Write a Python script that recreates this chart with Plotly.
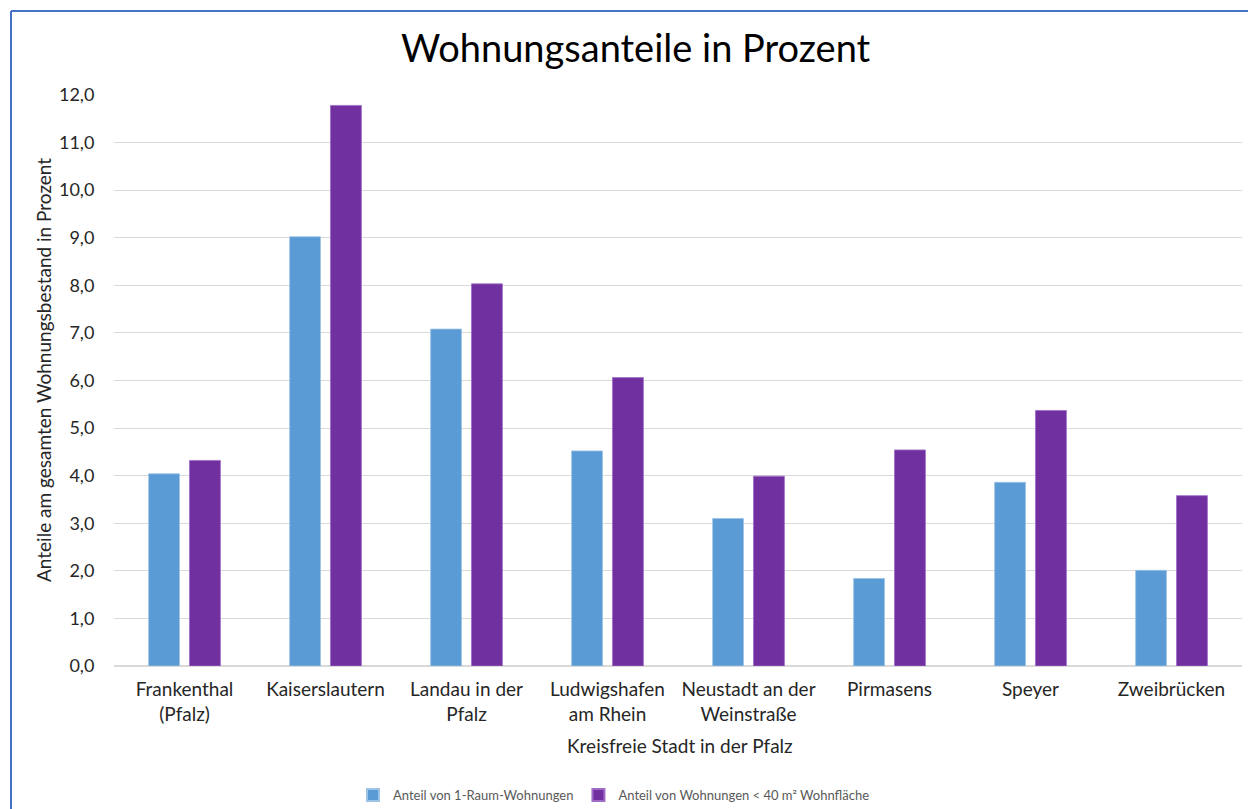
import plotly.graph_objects as go

categories = ["Frankenthal<br>(Pfalz)", "Kaiserslautern", "Landau in der<br>Pfalz",
              "Ludwigshafen<br>am Rhein", "Neustadt an der<br>Weinstraße", "Pirmasens",
              "Speyer", "Zweibrücken"]
anteil_1raum = [4.04, 9.02, 7.08, 4.52, 3.10, 1.84, 3.86, 2.01]
anteil_40qm = [4.32, 11.78, 8.03, 6.06, 3.99, 4.54, 5.37, 3.58]
series_names = ["Anteil von 1-Raum-Wohnungen", "Anteil von Wohnungen < 40 m² Wohnfläche"]
y_ticks = [0, 1, 2, 3, 4, 5, 6, 7, 8, 9, 10, 11, 12]

FONT = "Lato"
W, H = 1248, 809
L, R, T, B = 114, 6, 94, 143
pw, ph = W - L - R, H - T - B

def px_x(p):
    return (p - L) / pw

def px_y(p):
    return (H - B - p) / ph

fig = go.Figure()
fig.add_trace(go.Bar(x=categories, y=anteil_1raum, name=series_names[0],
                     marker=dict(color="#5B9BD5", line=dict(width=0.8, color="#9DC3E6"))))
fig.add_trace(go.Bar(x=categories, y=anteil_40qm, name=series_names[1],
                     marker=dict(color="#7030A0", line=dict(width=0.8, color="#9E6CC6"))))

fig.update_layout(
    width=W, height=H,
    margin=dict(l=L, r=R, t=T, b=B, autoexpand=False),
    paper_bgcolor="white", plot_bgcolor="white",
    separators=",.",
    barmode="group", bargap=0.42, bargroupgap=0.244,
    font=dict(family=FONT, color="#262626", size=19),
    showlegend=True,
    legend=dict(orientation="h", x=px_x(614), xanchor="center", y=px_y(795), yanchor="middle",
                font=dict(size=13, color="#595959"), tracegroupgap=0,
                itemsizing="constant"),
    xaxis=dict(showgrid=False, showline=True, linecolor="#D9D9D9", linewidth=1,
               ticks="outside", ticklen=6, tickcolor="rgba(0,0,0,0)",
               tickfont=dict(size=19, color="#262626")),
    yaxis=dict(range=[0, 12.02], tickvals=y_ticks, tickformat=".1f",
               showgrid=True, gridcolor="#D9D9D9", gridwidth=1,
               zeroline=True, zerolinecolor="#D9D9D9",
               ticks="outside", ticklen=15, tickcolor="rgba(0,0,0,0)",
               tickfont=dict(size=18, color="#262626")),
    annotations=[
        dict(text="Wohnungsanteile in Prozent", x=px_x(636), y=px_y(47), xref="paper", yref="paper",
             showarrow=False, font=dict(size=38, color="black", family=FONT),
             xanchor="center", yanchor="middle"),
        dict(text="Anteile am gesamten Wohnungsbestand in Prozent", x=px_x(43), y=px_y(370),
             xref="paper", yref="paper", textangle=-90, showarrow=False,
             font=dict(size=19, color="#262626", family=FONT), xanchor="center", yanchor="middle"),
        dict(text="Kreisfreie Stadt in der Pfalz", x=px_x(680), y=px_y(745),
             xref="paper", yref="paper", showarrow=False,
             font=dict(size=19, color="#262626", family=FONT), xanchor="center", yanchor="middle"),
    ],
    shapes=[
        dict(type="line", xref="paper", yref="paper", x0=px_x(11), x1=px_x(11),
             y0=px_y(11), y1=px_y(900), line=dict(color="#4472C4", width=2)),
        dict(type="line", xref="paper", yref="paper", x0=px_x(11), x1=px_x(1300),
             y0=px_y(11), y1=px_y(11), line=dict(color="#4472C4", width=2)),
    ],
)

fig.write_html("out.html", config={"displayModeBar": False},
               post_script="document.body.style.margin='0';document.body.style.overflow='hidden';")
